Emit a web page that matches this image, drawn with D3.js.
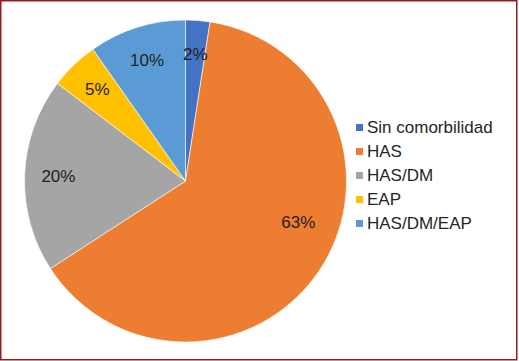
<!DOCTYPE html>
<html>
<head>
<meta charset="utf-8">
<script src="https://cdn.jsdelivr.net/npm/d3@7"></script>
<style>
  body { margin: 0; background: #fff; }
  svg { display: block; font-family: "Liberation Sans", Arial, sans-serif; }
</style>
</head>
<body>
<div id="chart"></div>
<script>
// counts (labels are the rounded shares)
var categories = ["Sin comorbilidad", "HAS", "HAS/DM", "EAP", "HAS/DM/EAP"];
var counts = [1, 26, 8, 2, 4];
var pctLabels = ["2%", "63%", "20%", "5%", "10%"];
var sliceColors = ["#4472c4", "#ed7d31", "#a5a5a5", "#ffc000", "#5b9bd5"];

var width = 519, height = 361;
var cx = 185.5, cy = 181, radius = 161;

var svg = d3.select("#chart").append("svg")
  .attr("width", width)
  .attr("height", height);

svg.append("rect")
  .attr("x", 0.75).attr("y", 0.75)
  .attr("width", 516).attr("height", 359)
  .attr("fill", "#fff")
  .attr("stroke", "#951b1e")
  .attr("stroke-width", 1.5);

var pie = d3.pie().sort(null).value(function (d) { return d; });
var arcs = pie(counts);

var arc = d3.arc().innerRadius(0).outerRadius(radius);

var g = svg.append("g").attr("transform", "translate(" + cx + "," + cy + ")");

g.selectAll("path.slice")
  .data(arcs)
  .enter()
  .append("path")
  .attr("class", "slice")
  .attr("d", arc)
  .attr("fill", function (d, i) { return sliceColors[i]; })
  .attr("stroke", "#fff")
  .attr("stroke-width", 0.6);

// Excel "best fit" puts the big slice label higher than its centroid
function labelPos(d, i) {
  var a = (d.startAngle + d.endAngle) / 2;
  var r = radius * 0.79;
  if (i === 1) { a -= 13 * Math.PI / 180; r = radius * 0.745; }
  return [r * Math.sin(a), -r * Math.cos(a)];
}

g.selectAll("text.lbl")
  .data(arcs)
  .enter()
  .append("text")
  .attr("class", "lbl")
  .attr("transform", function (d, i) { return "translate(" + labelPos(d, i) + ")"; })
  .attr("text-anchor", "middle")
  .attr("dy", "0.35em")
  .style("font-size", "17px")
  .attr("fill", "#1f1f1f")
  .text(function (d, i) { return pctLabels[i]; });

// legend
var legend = svg.append("g").attr("transform", "translate(356,127)");
var rows = legend.selectAll("g")
  .data(categories)
  .enter()
  .append("g")
  .attr("transform", function (d, i) { return "translate(0," + i * 24 + ")"; });

rows.append("rect")
  .attr("x", 0).attr("y", -3)
  .attr("width", 7).attr("height", 7)
  .attr("fill", function (d, i) { return sliceColors[i]; });

rows.append("text")
  .attr("x", 11)
  .attr("dy", "0.35em")
  .style("font-size", "17px")
  .attr("fill", "#262626")
  .text(function (d) { return d; });
</script>
</body>
</html>
